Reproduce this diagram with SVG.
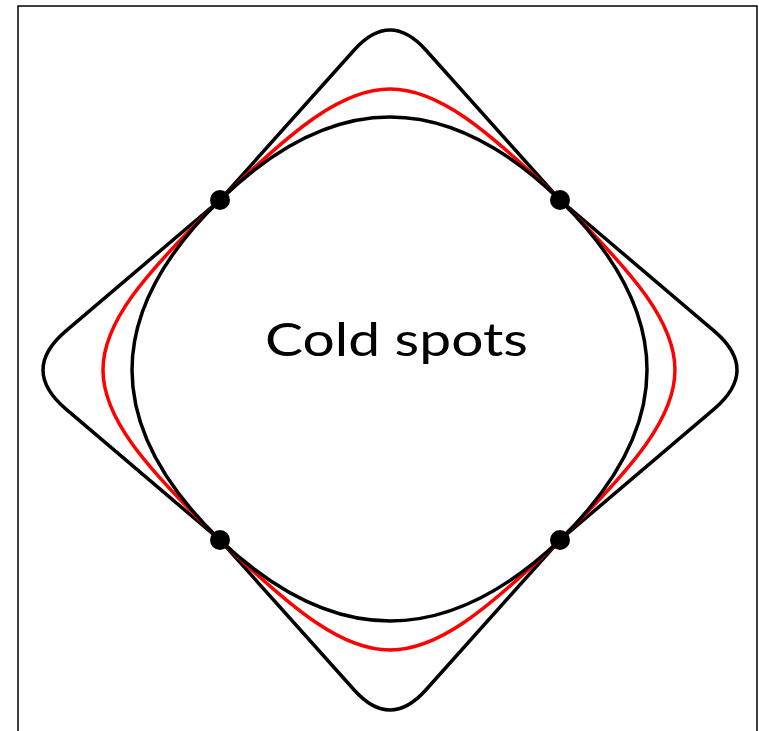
<svg xmlns="http://www.w3.org/2000/svg" width="759" height="731" viewBox="0 0 759 731">
  <style>
    .curve { fill: none; stroke-width: 3.5; stroke-linejoin: round; }
    .blk { stroke: #000000; }
    .red { stroke: #ff0000; }
    .dot { fill: #000000; }
    .lbl { font-family: "Lato", "Liberation Sans", sans-serif; font-size: 47px; fill: #000000; }
  </style>
  <rect x="0" y="0" width="759" height="731" fill="#ffffff"/>
  <rect id="frame" x="18" y="6" width="739" height="740" fill="none" stroke="#000000" stroke-width="1.5"/>
  <g id="curves">
    <path id="outer" class="curve blk" d="M220,200 L354.2,50 Q390,10 425.8,50 L560,200 L714,330.9 Q760,370 714,409.1 L560,540 L425.8,690 Q390,730 354.2,690 L220,540 L66,409.1 Q20,370 66,330.9 Z"/>
    <path id="middle" class="curve red" d="M220,200 C372.7,52 407.3,52 560,200 C713.3,352.7 713.3,387.3 560,540 C407.3,686.7 372.7,686.7 220,540 C64,387.3 64,352.7 220,200 Z"/>
    <path id="inner" class="curve blk" d="M220,200 C334,89.3 446,89.3 560,200 C676,314 676,426 560,540 C446,648 334,648 220,540 C102.7,426 102.7,314 220,200 Z"/>
  </g>
  <g id="points">
    <circle class="dot" cx="220" cy="200" r="10"/>
    <circle class="dot" cx="560" cy="200" r="10"/>
    <circle class="dot" cx="220" cy="540" r="10"/>
    <circle class="dot" cx="560" cy="540" r="10"/>
  </g>
  <g id="label">
    <text class="lbl" x="396.5" y="356" text-anchor="middle" textLength="263" lengthAdjust="spacingAndGlyphs">Cold spots</text>
  </g>
</svg>
